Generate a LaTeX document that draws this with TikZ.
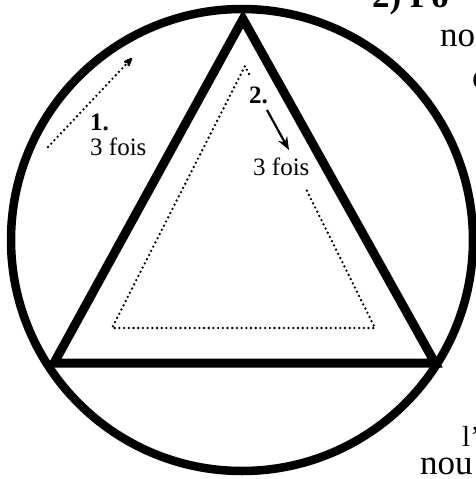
\documentclass[tikz,border=0pt]{standalone}
\usepackage{fontspec}
\setmainfont{Liberation Serif}
\usetikzlibrary{arrows.meta}
\begin{document}
\begin{tikzpicture}[x=1pt,y=-1pt,
  heavy/.style={line width=8.5pt},
  dotline/.style={line width=2.6pt, line cap=round, dash pattern=on 0pt off 4.7pt},
  lbl/.style={font=\fontsize{25}{27}\selectfont, inner sep=0pt, anchor=base west},
  boldlbl/.style={lbl, font=\fontsize{25}{27}\selectfont\bfseries},
  bodytext/.style={font=\fontsize{35}{38}\selectfont, inner sep=0pt, anchor=base west}]
\useasboundingbox (0,0) rectangle (476,479);
\clip (0,0) rectangle (476,479);
% outer circle
\draw[heavy] (242,240) circle [radius=231pt];
% big triangle
\draw[line width=9pt, line join=miter] (243,19) -- (54,363) -- (435,363) -- cycle;
% dotted inner triangle (right side interrupted by labels)
\draw[dotline] (249,74) -- (245,66) -- (112,328) -- (375,328) -- (305,187);
% labels
\node[boldlbl] (one) at (90,130) {1.};
\node[lbl] (onefois) at (90,155) {3 fois};
\node[boldlbl] (two) at (249,103) {2.};
\node[lbl] (twofois) at (253,175) {3 fois};
% arrows
\coordinate (a1s) at (48,147);
\coordinate (a1e) at (132,58);
\draw[dotline, -{Stealth[length=13pt,width=10pt,round]}] (a1s) -- (a1e);
\coordinate (a2s) at (267,110);
\coordinate (a2e) at (289,150);
\draw[line width=2.2pt, -{Stealth[length=13pt,width=10pt]}] (a2s) -- (a2e);
% cropped page text on the right
\node[bodytext, font=\fontsize{35}{38}\selectfont\bfseries] (t1) at (372,8) {2) Po};
\node[bodytext] (t2) at (440,46) {no};
\node[bodytext] (t3) at (472,88) {c};
\node[bodytext, font=\fontsize{29}{31}\selectfont] (t4) at (462,446) {l'};
\node[bodytext] (t5) at (420,474) {nou};
\end{tikzpicture}
\end{document}
